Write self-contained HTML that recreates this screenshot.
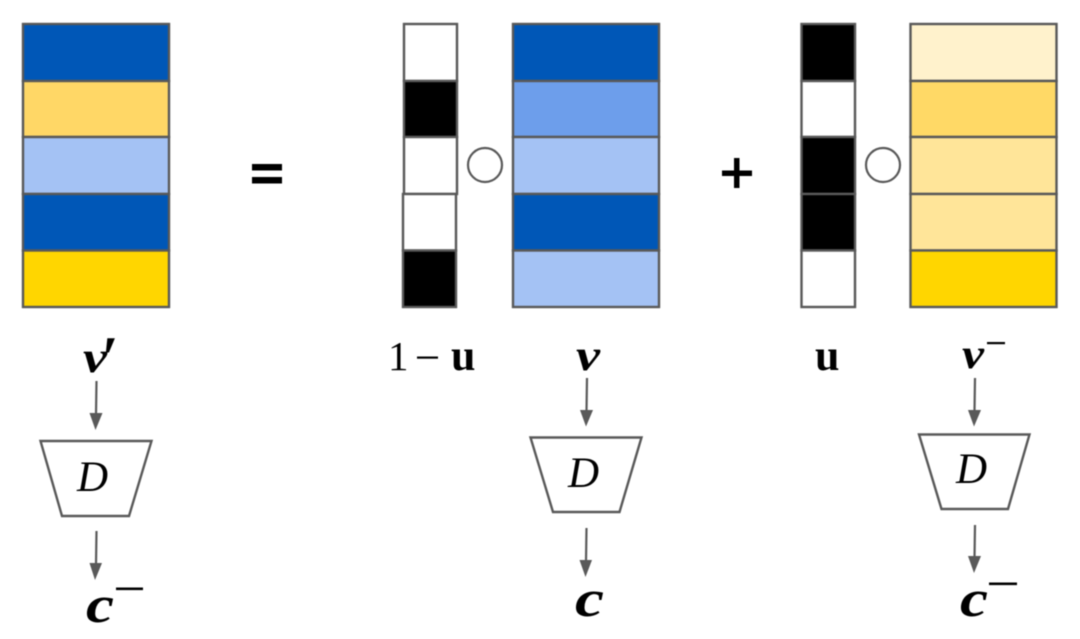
<!DOCTYPE html>
<html>
<head>
<meta charset="utf-8">
<style>
html,body{margin:0;padding:0;background:#fff;width:1080px;height:639px;overflow:hidden}
svg{display:block;filter:blur(.4px)}
text{fill:#000}
.bi{font-family:"Liberation Serif",serif;font-style:italic;font-weight:bold}
.i{font-family:"Liberation Serif",serif;font-style:italic}
.r{font-family:"Liberation Serif",serif}
.b{font-family:"Liberation Serif",serif;font-weight:bold}
.s rect{stroke:#595959;stroke-width:2.4}
.t{fill:#fff;stroke:#595959;stroke-width:2.4}
.a{stroke:#595959;stroke-width:2.2;fill:none}
.h{fill:#595959}
.o{fill:#fff;stroke:#595959;stroke-width:2.2}
</style>
</head>
<body>
<svg width="1080" height="639" viewBox="0 0 1080 639" xmlns="http://www.w3.org/2000/svg">
<rect width="1080" height="639" fill="#fff"/>

<g class="s">
<rect x="23" y="24" width="146" height="57" fill="#0057b7"/>
<rect x="23" y="81" width="146" height="56" fill="#ffd766"/>
<rect x="23" y="137" width="146" height="57" fill="#a4c2f4"/>
<rect x="23" y="194" width="146" height="56.500" fill="#0057b7"/>
<rect x="23" y="250.500" width="146" height="56.500" fill="#ffd600"/>
</g>

<g fill="#000">
<rect x="252" y="164" width="30" height="6.500"/>
<rect x="252" y="177" width="30" height="6.500"/>
<rect x="722" y="170.500" width="30" height="5.500"/>
<rect x="734" y="158" width="5.500" height="30"/>
</g>

<g class="s">
<rect x="404" y="24" width="53" height="57" fill="#fff"/>
<rect x="404" y="81" width="53" height="56" fill="#000"/>
<rect x="404" y="137" width="53" height="57" fill="#fff"/>
<rect x="403" y="194" width="53" height="56.500" fill="#fff"/>
<rect x="403" y="250.500" width="53" height="56.500" fill="#000"/>
</g>
<circle class="o" cx="485" cy="165" r="17"/>
<g class="s">
<rect x="513" y="24" width="146" height="57" fill="#0057b7"/>
<rect x="513" y="81" width="146" height="56" fill="#6d9eeb"/>
<rect x="513" y="137" width="146" height="57" fill="#a4c2f4"/>
<rect x="513" y="194" width="146" height="56.500" fill="#0057b7"/>
<rect x="513" y="250.500" width="146" height="56.500" fill="#a4c2f4"/>
</g>

<g class="s">
<rect x="801.500" y="24" width="53.500" height="57" fill="#000"/>
<rect x="801.500" y="81" width="53.500" height="56" fill="#fff"/>
<rect x="801.500" y="137" width="53.500" height="57" fill="#000"/>
<rect x="801.500" y="194" width="53.500" height="56.500" fill="#000"/>
<rect x="801.500" y="250.500" width="53.500" height="56.500" fill="#fff"/>
</g>
<circle class="o" cx="883" cy="165" r="17"/>
<g class="s">
<rect x="910.500" y="24" width="146" height="57" fill="#fff2cc"/>
<rect x="910.500" y="81" width="146" height="56" fill="#ffd966"/>
<rect x="910.500" y="137" width="146" height="57" fill="#ffe599"/>
<rect x="910.500" y="194" width="146" height="56.500" fill="#ffe599"/>
<rect x="910.500" y="250.500" width="146" height="56.500" fill="#ffd600"/>
</g>

<!-- labels -->
<text class="bi" x="83" y="372" font-size="44" textLength="24" lengthAdjust="spacingAndGlyphs">v</text>
<text class="bi" x="101" y="378" font-size="60">′</text>
<text class="r" x="388" y="370" font-size="41">1</text>
<rect x="417" y="356.500" width="21" height="2.200" fill="#000"/>
<text class="b" x="451" y="370" font-size="44">u</text>
<text class="bi" x="576" y="370" font-size="44" textLength="24" lengthAdjust="spacingAndGlyphs">v</text>
<text class="b" x="815" y="370" font-size="44">u</text>
<text class="bi" x="962" y="368" font-size="42" textLength="22" lengthAdjust="spacingAndGlyphs">v</text>
<rect x="987" y="342" width="18" height="2.200" fill="#000"/>

<!-- arrows -->
<line class="a" x1="96.500" y1="381" x2="96" y2="414"/>
<polygon class="h" points="89.500,413 102.500,413 95.500,430"/>
<line class="a" x1="96.500" y1="531" x2="96" y2="564"/>
<polygon class="h" points="89.500,563 102,563 95,580"/>
<line class="a" x1="587" y1="378" x2="586.500" y2="411"/>
<polygon class="h" points="580,410 593,410 586,426.500"/>
<line class="a" x1="586.500" y1="528" x2="586" y2="561"/>
<polygon class="h" points="579.500,560 592,560 585.500,577"/>
<line class="a" x1="975" y1="378" x2="974.500" y2="411"/>
<polygon class="h" points="968,410 981,410 974,426.500"/>
<line class="a" x1="975" y1="525" x2="974.500" y2="558"/>
<polygon class="h" points="968,556 981,556 974,573"/>

<!-- decoders -->
<polygon class="t" points="40.500,441 151.500,441 129,516 62,516"/>
<text class="i" x="77" y="491" font-size="43">D</text>
<polygon class="t" points="530.500,437.500 641.500,437.500 619.500,512 553,512"/>
<text class="i" x="568" y="487" font-size="43">D</text>
<polygon class="t" points="919,434.500 1029.500,434.500 1008,509 941.500,509"/>
<text class="i" x="956" y="483" font-size="43">D</text>

<!-- outputs -->
<text class="bi" x="86" y="622" font-size="52" textLength="28" lengthAdjust="spacingAndGlyphs">c</text>
<rect x="116" y="587.500" width="27" height="2.600" fill="#000"/>
<text class="bi" x="575" y="616" font-size="52" textLength="29" lengthAdjust="spacingAndGlyphs">c</text>
<text class="bi" x="960" y="616" font-size="52" textLength="28" lengthAdjust="spacingAndGlyphs">c</text>
<rect x="989" y="582.500" width="28" height="2.600" fill="#000"/>
</svg>
</body>
</html>
